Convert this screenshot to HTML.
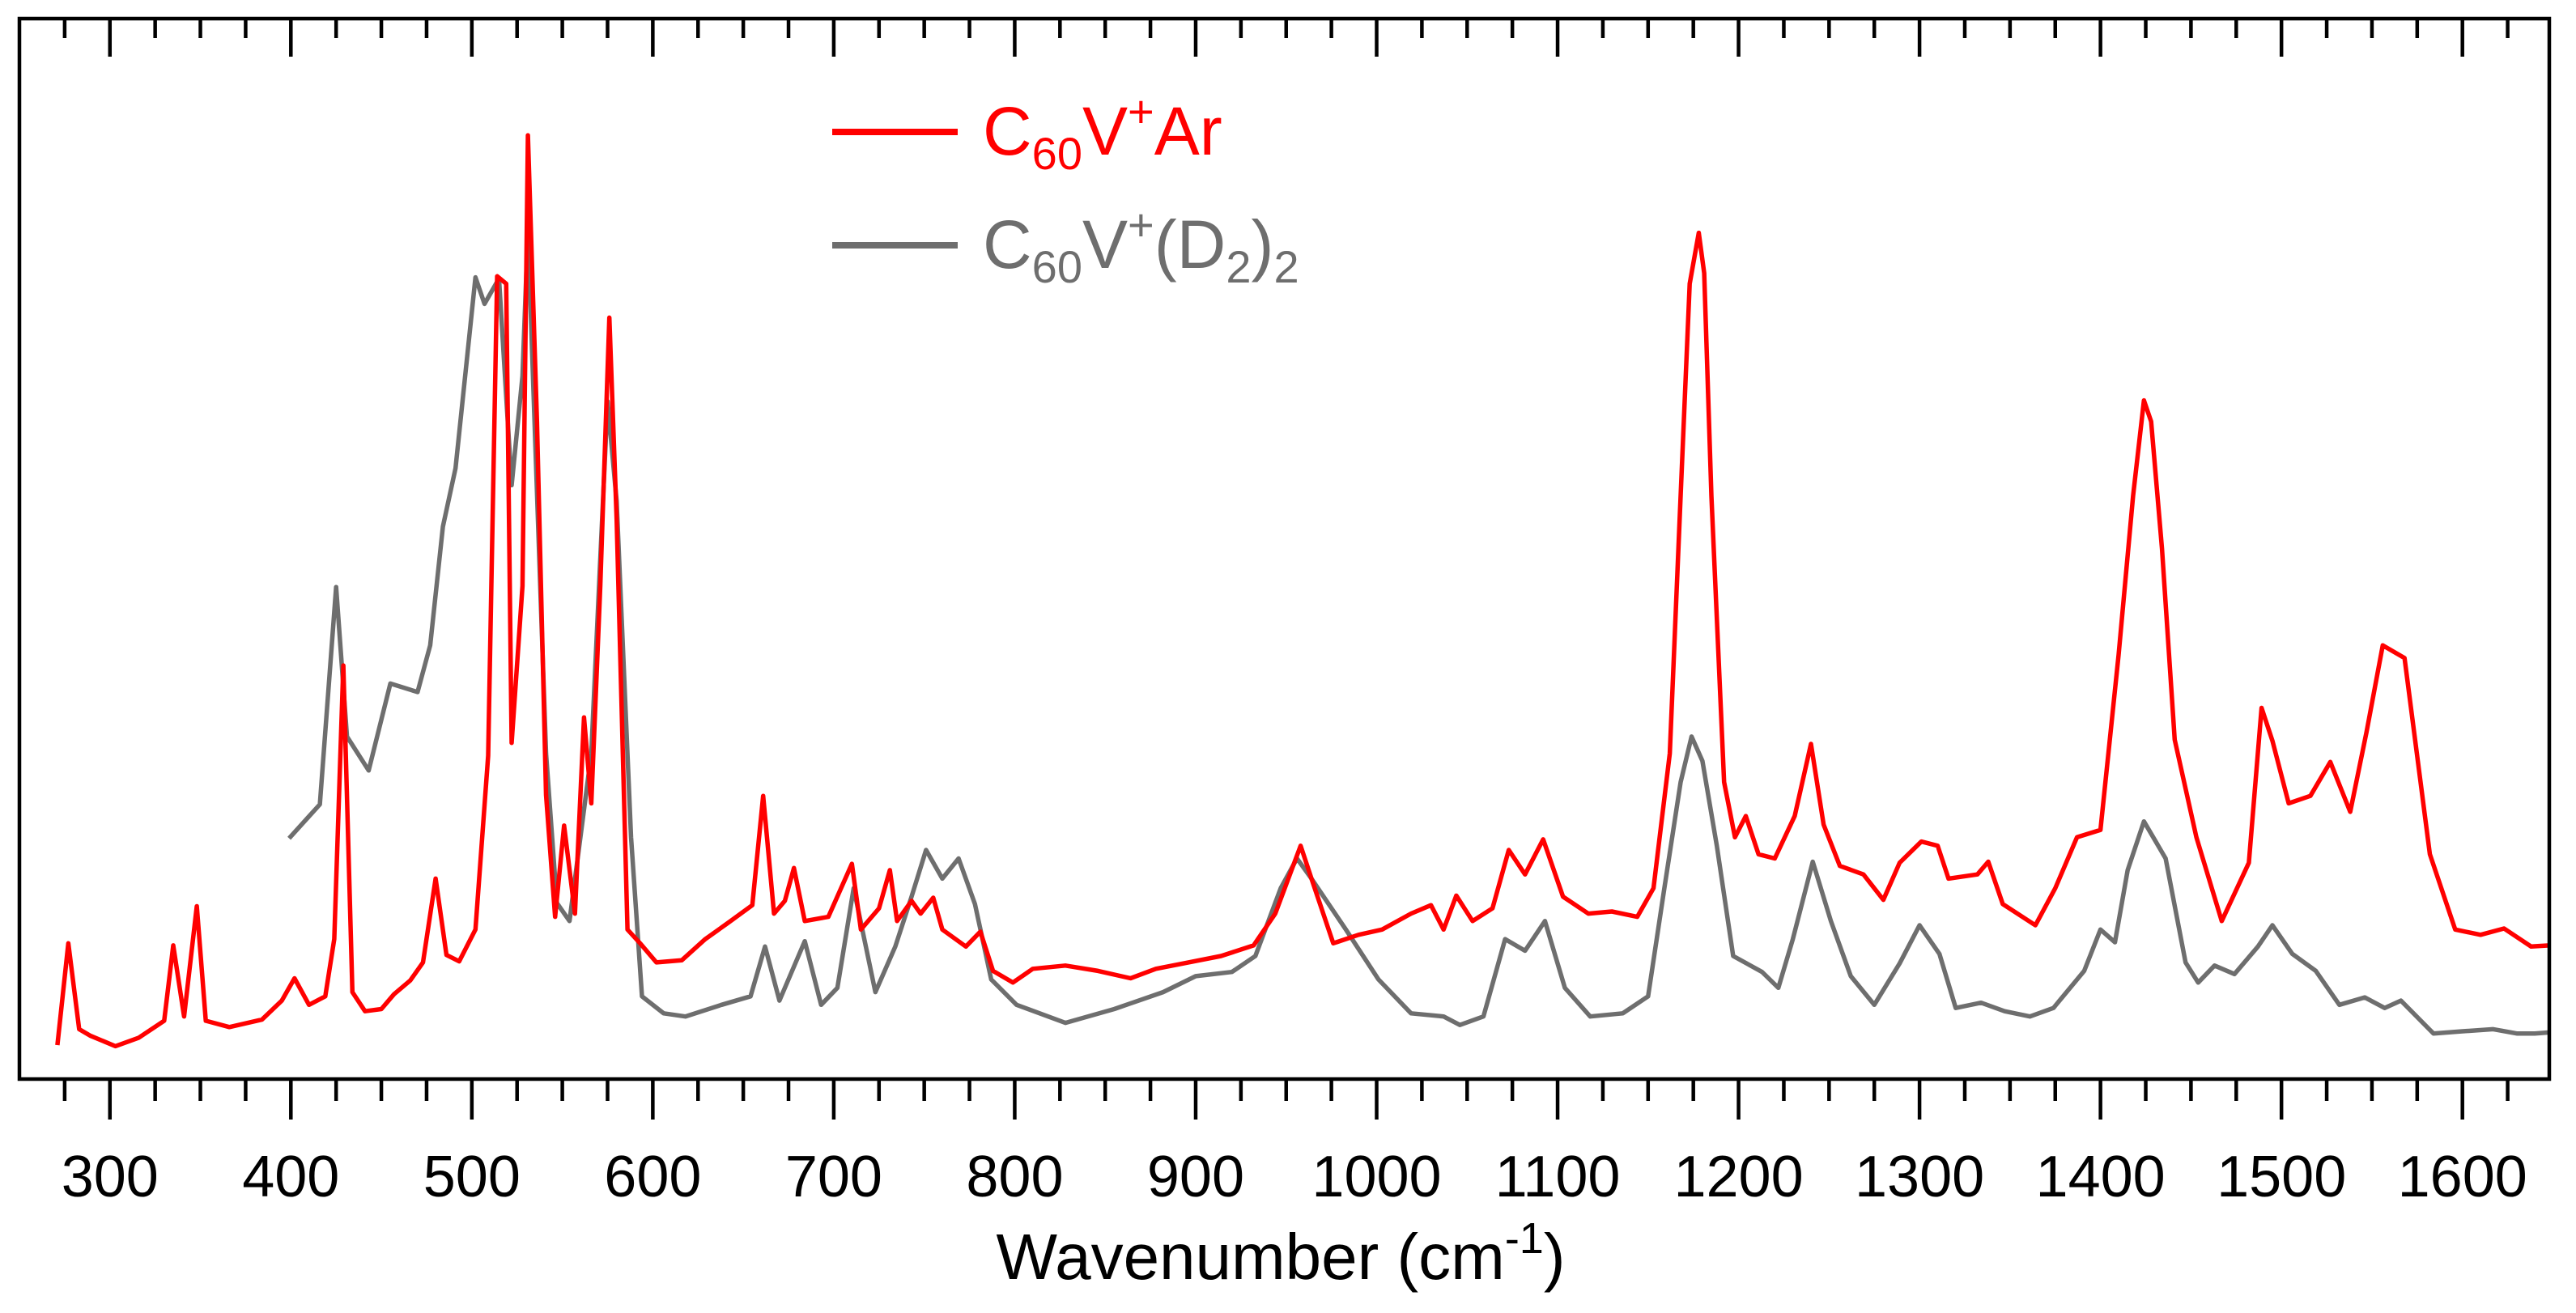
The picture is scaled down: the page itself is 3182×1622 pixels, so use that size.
<!DOCTYPE html>
<html><head><meta charset="utf-8"><style>
html,body{margin:0;padding:0;background:#fff;}
svg{display:block;font-family:"Liberation Sans",Arial,sans-serif;}
</style></head><body>
<svg id="chart" width="3182" height="1622" viewBox="0 0 3182 1622" xmlns="http://www.w3.org/2000/svg">
<g id="ticks"></g>
<g id="labels"></g>
<g id="series"></g>
<rect x="24" y="23" width="3125" height="1310" fill="none" stroke="#000" stroke-width="4.5"/>
<text x="1582" y="1580" font-size="80" text-anchor="middle">Wavenumber (cm<tspan font-size="54" dy="-32">-1</tspan><tspan dy="32">)</tspan></text>
<g>
<line x1="1028" y1="163" x2="1183" y2="163" stroke="#ff0000" stroke-width="8"/>
<text x="1214" y="191" font-size="84" fill="#ff0000">C<tspan font-size="56" dy="18">60</tspan><tspan dy="-18">V</tspan><tspan font-size="56" dy="-34">+</tspan><tspan dy="34">Ar</tspan></text>
<line x1="1028" y1="303" x2="1183" y2="303" stroke="#6e6e6e" stroke-width="8"/>
<text x="1214" y="331" font-size="84" fill="#6e6e6e">C<tspan font-size="56" dy="18">60</tspan><tspan dy="-18">V</tspan><tspan font-size="56" dy="-34">+</tspan><tspan dy="34">(D</tspan><tspan font-size="56" dy="18">2</tspan><tspan dy="-18">)</tspan><tspan font-size="56" dy="18">2</tspan></text>
</g>
</svg>
<script>
const tickLabels = [300,400,500,600,700,800,900,1000,1100,1200,1300,1400,1500,1600];
const arWave = [271,277,283,289,303,316,330,335,341,348,353,366,384,395,402,410,419,424,429,434,441,450,457,466,473,480,486,493,502,509,514,519,522,528,531,536,541,546,551,557,562,566,571,576,580,586,593,602,616,629,643,655,661,667,673,678,684,697,710,715,725,731,735,743,748,755,760,773,781,788,799,810,828,846,864,878,896,914,932,944,958,964,976,990,1003,1019,1030,1037,1044,1053,1064,1073,1082,1092,1103,1117,1130,1144,1153,1162,1168,1173,1178,1181,1185,1192,1198,1204,1211,1220,1231,1240,1247,1256,1269,1280,1289,1301,1310,1316,1332,1338,1346,1364,1375,1387,1400,1410,1418,1424,1428,1434,1441,1453,1467,1482,1489,1495,1504,1516,1527,1538,1547,1556,1568,1582,1596,1610,1623,1638,1648];
const arInt = [3.2,12.8,4.7,4.1,3.1,3.9,5.5,12.6,5.9,16.3,5.5,4.9,5.6,7.4,9.5,7.0,7.8,13.2,39,8.2,6.4,6.6,8.0,9.3,11.0,18.9,11.7,11.1,14.1,30.5,75.7,75,31.7,46.5,89,62,26.8,15.3,23.9,15.6,34.1,26,46.5,71.8,52.8,14.1,12.8,11.0,11.2,13.2,14.9,16.4,26.7,15.6,16.8,19.9,14.9,15.3,20.3,14.1,16.1,19.7,14.9,16.8,15.6,17.1,14.1,12.5,13.9,10.2,9.1,10.4,10.7,10.2,9.5,10.4,11.0,11.6,12.6,15.6,22.0,18.9,12.8,13.6,14.1,15.6,16.4,14.1,17.3,14.9,16.1,21.6,19.3,22.6,17.2,15.6,15.8,15.3,18,30.7,55,75,79.8,76,55,28,22.8,24.8,21.2,20.8,24.8,31.6,24,20.1,19.3,16.9,20.4,22.4,22,18.9,19.3,20.5,16.5,14.5,18,22.8,23.5,40,55,64,62,50,32,22.8,14.9,20.4,35,31.9,26,26.7,29.9,25.2,32.7,40.9,39.7,21.2,14.1,13.6,14.2,12.5,12.6,12.3];
const d2Wave = [399,416,425,431,443,455,470,477,484,491,502,507,515,522,528,531,541,547,554,566,575,580,588,594,606,618,638,654,662,670,684,693,702,711,723,734,743,751,760,769,778,787,801,828,855,882,900,920,933,947,956,964,983,1001,1019,1037,1046,1059,1071,1082,1093,1104,1118,1136,1150,1159,1168,1174,1180,1188,1197,1213,1222,1230,1241,1251,1262,1275,1289,1300,1311,1320,1334,1347,1361,1374,1391,1400,1408,1415,1424,1436,1447,1454,1463,1474,1487,1495,1506,1519,1532,1546,1557,1566,1584,1600,1617,1630,1640,1648];
const d2Int = [22.7,25.9,46.4,32.3,29.1,37.3,36.5,40.9,52.1,57.6,75.6,73.1,75.5,56,66.3,80,30.7,16.6,14.9,30.7,63.9,54.5,22.8,7.8,6.2,5.9,7.0,7.8,12.5,7.4,13.0,7.0,8.6,18,8.2,12.5,17.2,21.6,18.9,20.8,16.5,9.4,7.0,5.3,6.6,8.2,9.7,10.1,11.6,18,20.8,18.9,14.1,9.4,6.2,5.9,5.1,5.9,13.2,12.1,14.9,8.6,5.9,6.2,7.8,18,28,32.3,30,22,11.6,10.1,8.6,13.2,20.5,14.9,9.7,7.0,10.9,14.5,11.8,6.7,7.2,6.4,5.9,6.7,10.2,14.1,12.9,19.7,24.3,20.8,11.0,9.1,10.7,9.9,12.5,14.5,11.8,10.2,7.0,7.7,6.7,7.4,4.3,4.5,4.7,4.3,4.3,4.4];

const X0=24, X1=3149, Y0=1333, Y1=23, XMIN=250, XMAX=1648, IMAX=100;
const xs = v => X0 + (v - XMIN) * (X1 - X0) / (XMAX - XMIN);
const ys = i => Y0 - i * (Y0 - Y1) / IMAX;
const NS = "http://www.w3.org/2000/svg";

const tg = document.getElementById('ticks');
for (let v = 275; v < XMAX; v += 25) {
  const major = v % 100 === 0;
  const x = xs(v);
  const b = document.createElementNS(NS,'line');
  b.setAttribute('x1',x); b.setAttribute('x2',x);
  b.setAttribute('y1',Y0); b.setAttribute('y2',Y0 + (major?50:27));
  b.setAttribute('stroke','#000'); b.setAttribute('stroke-width','4.5');
  
  
  tg.appendChild(b);
  const t = document.createElementNS(NS,'line');
  t.setAttribute('x1',x); t.setAttribute('x2',x);
  t.setAttribute('y1',Y1); t.setAttribute('y2',Y1 + (major?47:24));
  t.setAttribute('stroke','#000'); t.setAttribute('stroke-width','4.5');
  
  
  tg.appendChild(t);
}
const lg = document.getElementById('labels');
tickLabels.forEach(v => {
  const t = document.createElementNS(NS,'text');
  t.setAttribute('x', xs(v)); t.setAttribute('y', 1478);
  t.setAttribute('font-size','72'); t.setAttribute('text-anchor','middle');
  t.textContent = v;
  
  
  lg.appendChild(t);
});
function drawLine(w, v, color, name) {
  const p = document.createElementNS(NS,'path');
  p.setAttribute('d', w.map((x,i)=>(i?'L':'M')+xs(x).toFixed(1)+','+ys(v[i]).toFixed(1)).join(''));
  p.setAttribute('fill','none'); p.setAttribute('stroke',color);
  p.setAttribute('stroke-width','5.5'); p.setAttribute('stroke-linejoin','round');
  
  
  document.getElementById('series').appendChild(p);
}
drawLine(d2Wave, d2Int, '#6e6e6e', 'series-d2-line');
drawLine(arWave, arInt, '#ff0000', 'series-ar-line');
</script>
</body></html>
